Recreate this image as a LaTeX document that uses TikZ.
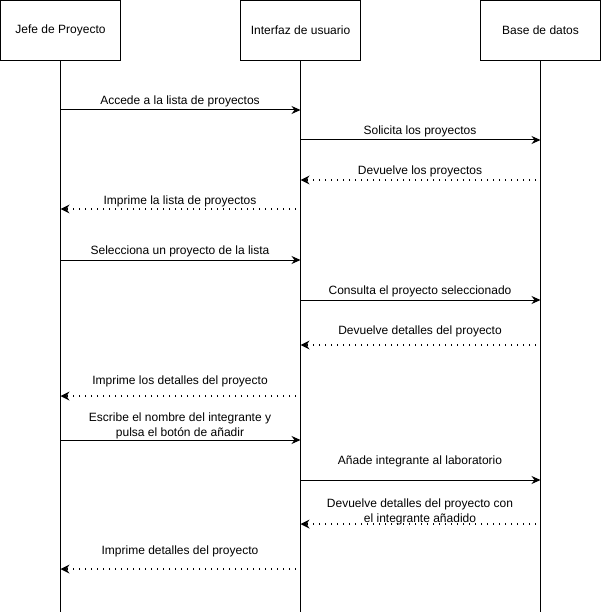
\documentclass[tikz,border=0pt]{standalone}
\usepackage{fontspec}
\setmainfont{Liberation Sans}
\usetikzlibrary{arrows.meta}
\begin{document}
\begin{tikzpicture}[x=1pt,y=-1pt,
  actor/.style={draw,line width=1pt,minimum width=120pt,minimum height=60pt,inner sep=0pt,
    font=\fontsize{12}{14}\selectfont},
  lifeline/.style={line width=1pt},
  msg/.style={line width=1pt,-{Stealth[length=9pt,width=8pt,inset=3pt]}},
  reply/.style={line width=1.6pt,dash pattern=on 1.5pt off 4.5pt,
    -{Stealth[length=9pt,width=9pt,inset=3pt,line width=0pt]}},
  lbl/.style={font=\fontsize{12}{15}\selectfont,align=center,inner sep=0pt}]
\useasboundingbox (0,0) rectangle (601,612);
\fill[white] (0,0) rectangle (601,612);

% participants
\node[actor] (jefe) at (60.5,30.5) {Jefe de Proyecto};
\node[actor] (ui)   at (300.5,30.5) {Interfaz de usuario};
\node[actor] (db)   at (540.5,30.5) {Base de datos};

% lifeline ends
\coordinate (jefeEnd) at (60.5,612);
\coordinate (uiEnd) at (300.5,612);
\coordinate (dbEnd) at (540.5,612);
\draw[lifeline] (jefe.south) -- (jefeEnd);
\draw[lifeline] (ui.south) -- (uiEnd);
\draw[lifeline] (db.south) -- (dbEnd);

% message anchors on each lifeline
\foreach \n/\y in {1/110,2/140,3/180,4/209,5/260,6/300,7/345,8/396,9/440,10/480,11/524,12/569}{
  \coordinate (j\n) at (60.5,\y);
  \coordinate (u\n) at (300.5,\y);
  \coordinate (d\n) at (540.5,\y);
  \coordinate (us\n) at (296,\y);
  \coordinate (ds\n) at (536,\y);
}

\draw[msg] (j1) -- (u1);
\node[lbl] (l1) at (180,101.5) {Accede a la lista de proyectos};
\draw[msg] (u2) -- (d2);
\node[lbl] (l2) at (420,131.5) {Solicita los proyectos};
\draw[reply] (ds3) -- (u3);
\node[lbl] (l3) at (420,171.5) {Devuelve los proyectos};
\draw[reply] (us4) -- (j4);
\node[lbl] (l4) at (180,201.5) {Imprime la lista de proyectos};
\draw[msg] (j5) -- (u5);
\node[lbl] (l5) at (180,251.5) {Selecciona un proyecto de la lista};
\draw[msg] (u6) -- (d6);
\node[lbl] (l6) at (420,291.5) {Consulta el proyecto seleccionado};
\draw[reply] (ds7) -- (u7);
\node[lbl] (l7) at (420,331.5) {Devuelve detalles del proyecto};
\draw[reply] (us8) -- (j8);
\node[lbl] (l8) at (180,381.5) {Imprime los detalles del proyecto};
\draw[msg] (j9) -- (u9);
\node[lbl] (l9) at (180,426) {Escribe el nombre del integrante y\\pulsa el botón de añadir};
\draw[msg] (u10) -- (d10);
\node[lbl] (l10) at (420,461.5) {Añade integrante al laboratorio};
\draw[reply] (ds11) -- (u11);
\node[lbl] (l11) at (420,512) {Devuelve detalles del proyecto con\\el integrante añadido};
\draw[reply] (us12) -- (j12);
\node[lbl] (l12) at (180,551.5) {Imprime detalles del proyecto};
\end{tikzpicture}
\end{document}
